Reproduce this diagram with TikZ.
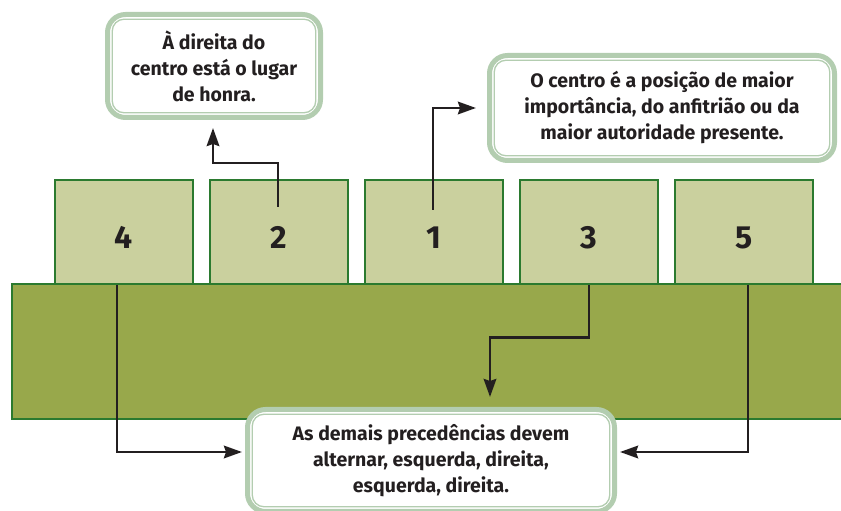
\documentclass[tikz,border=0pt]{standalone}
\usepackage{fontspec}
\setmainfont{Fira Sans}
\usetikzlibrary{arrows.meta,calc}
\definecolor{cbord}{HTML}{B3CDB0}
\definecolor{chairfill}{HTML}{CAD09E}
\definecolor{tablefill}{HTML}{98A84B}
\definecolor{dgreen}{HTML}{2B7A2F}
\definecolor{ink}{HTML}{231F20}
\tikzset{
  chair/.style={draw=dgreen, line width=1.8pt, fill=chairfill, minimum width=138pt, minimum height=104pt, inner sep=0pt, text height=34pt, text depth=0pt, font=\bfseries\fontsize{32}{34}\selectfont, text=ink},
  tablebox/.style={draw=dgreen, line width=2pt, fill=tablefill, minimum width=833pt, minimum height=135pt, inner sep=0pt},
  callout/.style={draw=cbord, line width=5pt, rounded corners=18pt, fill=white, align=center, inner sep=0pt, text=ink,
    font=\bfseries\fontsize{19.5}{26}\selectfont,
    path picture={\draw[cbord, line width=1.3pt, rounded corners=12pt]
      ([shift={(4.7pt,-4.7pt)}]path picture bounding box.north west) rectangle
      ([shift={(-4.7pt,4.7pt)}]path picture bounding box.south east);}},
  arr/.style={draw=ink, line width=2.8pt, -{Stealth[length=18pt,width=12.5pt,inset=2pt]}}
}
\begin{document}
\begin{tikzpicture}[x=1pt,y=1pt]
\useasboundingbox (0,0) rectangle (841,511);
\clip (0,0) rectangle (841,511);
% chairs
\node[chair] (c4) at (124,279) {4};
\node[chair] (c2) at (279,279) {2};
\node[chair] (c1) at (434,279) {1};
\node[chair] (c3) at (589,279) {3};
\node[chair] (c5) at (744,279) {5};
% table
\node[tablebox] (table) at (428.5,159.5) {};
% callouts
\node[callout, minimum width=213pt, minimum height=103pt] (t1) at (214,445)
  {À direita do\\centro está o lugar\\de honra.};
\node[callout, minimum width=345pt, minimum height=105pt] (t2) at (662,403)
  {O centro é a posição de maior\\importância, do anfitrião ou da\\maior autoridade presente.};
\node[callout, minimum width=367pt, minimum height=102pt] (t3) at (431,50.5)
  {As demais precedências devem\\alternar, esquerda, direita,\\esquerda, direita.};
% connectors
\draw[arr] ([xshift=-1pt,yshift=25pt]c2.center) -- ++(0,44) -| ([xshift=-1pt,yshift=-8pt]t1.south);
\draw[arr] ([xshift=-1pt,yshift=22pt]c1.center) |- ([xshift=-11pt]t2.west);
\draw[arr] (c3.south) -- ++(0,-53) -| ([xshift=59pt,yshift=10pt]t3.north);
\draw[arr] ([xshift=4pt]c5.south) |- ([xshift=3pt,yshift=8.5pt]t3.east);
\draw[arr] ([xshift=-7pt]c4.south) |- ([xshift=-3pt,yshift=8.5pt]t3.west);
\end{tikzpicture}
\end{document}
